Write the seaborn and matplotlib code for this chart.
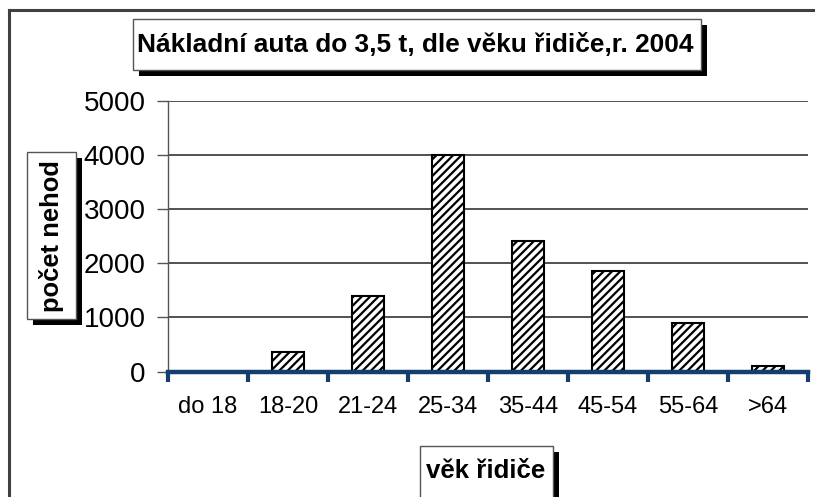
import matplotlib
matplotlib.use("Agg")
import matplotlib.pyplot as plt
from matplotlib.patches import Rectangle
from matplotlib.lines import Line2D
from matplotlib.ticker import FixedLocator, NullFormatter
import seaborn as sns
import numpy as np

categories = ["do 18", "18-20", "21-24", "25-34", "35-44", "45-54", "55-64", ">64"]
values = [0, 365, 1395, 3995, 2410, 1860, 900, 100]
yticks = [0, 1000, 2000, 3000, 4000, 5000]
title = "Nákladní auta do 3,5 t, dle věku řidiče,r. 2004"
xlabel = "věk řidiče"
ylabel = "počet nehod"

plt.rcParams['font.family'] = ['Liberation Sans', 'DejaVu Sans']
plt.rcParams['hatch.linewidth'] = 1.6
plt.rcParams['hatch.color'] = 'black'

W, H = 815, 497
fig = plt.figure(figsize=(W / 100, H / 100), dpi=100)
fig.patch.set_facecolor('white')


def fx(px):
    return px / W


def fy(py):
    return 1 - py / H


ax = fig.add_axes([fx(168), fy(371.5), fx(808) - fx(168), fy(101) - fy(371.5)])

sns.barplot(x=categories, y=values, ax=ax, width=0.4, color='white',
            edgecolor='black', linewidth=1.5, hatch='////', saturation=1,
            zorder=2)

ax.set_xlim(-0.5, len(categories) - 0.5)
ax.set_ylim(0, 5000)
ax.set_yticks(yticks)
ax.set_yticklabels([str(v) for v in yticks], fontsize=20)
ax.set_axisbelow(True)
ax.grid(axis='y', color='#333333', linewidth=1.2, zorder=0)
ax.grid(axis='x', visible=False)

for s in ['top', 'right']:
    ax.spines[s].set_visible(False)
ax.spines['left'].set_color('#555555')
ax.spines['left'].set_linewidth(1.0)
ax.spines['bottom'].set_color('#133e6e')
ax.spines['bottom'].set_linewidth(3.2)
ax.spines['bottom'].set_zorder(3)

ax.tick_params(axis='y', which='major', length=8, width=1, color='#555555',
               pad=8, labelsize=20, direction='out')
ax.set_xticks(range(len(categories)))
ax.set_xticklabels(categories, fontsize=17)
ax.xaxis.set_minor_locator(FixedLocator(np.arange(-0.5, len(categories), 1.0)))
ax.xaxis.set_minor_formatter(NullFormatter())
ax.tick_params(axis='x', which='major', length=0, pad=17.5, labelsize=17)
ax.tick_params(axis='x', which='minor', length=7, width=3, color='#133e6e',
               direction='out')
ax.set_xlabel('')
ax.set_ylabel('')

# outer frame (top and left visible)
fig.add_artist(Line2D([fx(9), 1.01], [fy(10), fy(10)], color='#404040', lw=2.2,
                      transform=fig.transFigure))
fig.add_artist(Line2D([fx(9), fx(9)], [fy(10), -0.01], color='#404040', lw=2.2,
                      transform=fig.transFigure))


def shadow_box(x0, y0, x1, y1, off=6):
    fig.add_artist(Rectangle((fx(x0 + off), fy(y1 + off)), fx(x1) - fx(x0),
                             fy(y0) - fy(y1), transform=fig.transFigure,
                             facecolor='black', edgecolor='none', zorder=5))
    fig.add_artist(Rectangle((fx(x0), fy(y1)), fx(x1) - fx(x0),
                             fy(y0) - fy(y1), transform=fig.transFigure,
                             facecolor='white', edgecolor='#555555', lw=1.0,
                             zorder=6))


shadow_box(133, 19, 701, 70)
fig.text(fx(415), fy(51.7), title, ha='center', va='baseline', fontsize=18.9,
         fontweight='bold', zorder=7)

shadow_box(27, 152, 76, 319)
fig.text(fx(52), fy(236), ylabel, ha='center', va='center', rotation=90,
         fontsize=18.4, fontweight='bold', zorder=7)

shadow_box(420, 446, 553, 510)
fig.text(fx(486), fy(478), xlabel, ha='center', va='baseline', fontsize=18.6,
         fontweight='bold', zorder=7)

fig.savefig('out.png', dpi=100, facecolor='white')
